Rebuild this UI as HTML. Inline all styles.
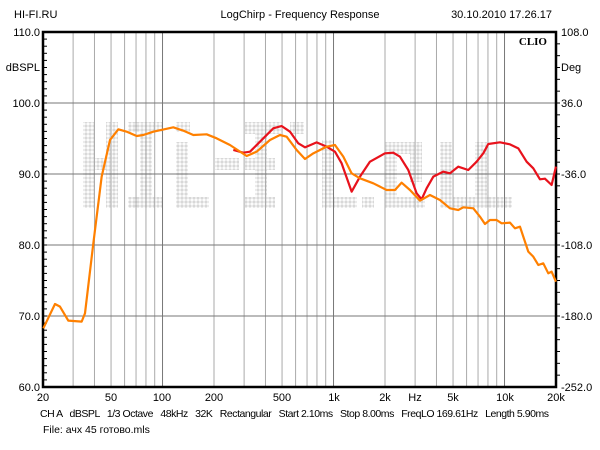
<!DOCTYPE html>
<html><head><meta charset="utf-8"><style>
body{margin:0;background:#fff;width:600px;height:450px;overflow:hidden}
svg{display:block;font-family:"Liberation Sans",Arial,sans-serif}
</style></head><body>
<svg id="s" width="600" height="450" xmlns="http://www.w3.org/2000/svg">
<defs><pattern id="dp" width="4" height="4" patternUnits="userSpaceOnUse"><circle cx="2" cy="2" r="1.6" fill="#d8d8d8"/></pattern></defs>
<g id="wm" fill="url(#dp)">
<rect x="83" y="122" width="12" height="86"/><rect x="106" y="122" width="12" height="86"/><rect x="83" y="158" width="35" height="12"/>
<rect x="128" y="122" width="34" height="10"/><rect x="140" y="122" width="12" height="86"/><rect x="128" y="197" width="34" height="11"/>
<rect x="176" y="122" width="14" height="10"/><rect x="176" y="142" width="12" height="66"/><rect x="176" y="197" width="33" height="11"/>
<rect x="215" y="158" width="24" height="12"/>
<rect x="245" y="122" width="36" height="12"/><rect x="255" y="122" width="12" height="86"/><rect x="245" y="158" width="30" height="12"/><rect x="245" y="197" width="30" height="11"/>
<rect x="290" y="122" width="14" height="12"/><rect x="322" y="140" width="12" height="68"/><rect x="322" y="197" width="35" height="11"/>
<rect x="362" y="197" width="12" height="11"/>
<rect x="385" y="142" width="35" height="12"/><rect x="385" y="142" width="12" height="66"/><rect x="385" y="197" width="40" height="11"/><rect x="410" y="142" width="12" height="40"/>
<rect x="440" y="142" width="12" height="66"/><rect x="475" y="142" width="12" height="66"/><rect x="452" y="197" width="60" height="11"/>
</g>
<g id="grid"></g>
<rect x="43" y="32" width="513" height="355" fill="none" stroke="#000" stroke-width="2.5"/>
<g id="ticks" stroke="#000" stroke-width="1"></g>
<g transform="translate(40,110) scale(0.3333)" fill="none" stroke-linejoin="round">
<polyline stroke="#e8121c" stroke-width="2.2" vector-effect="non-scaling-stroke" points="580,120 610,128 630,125 660,95 700,55 725,48 750,65 775,100 795,112 830,97 860,110 885,125 905,160 935,245 960,200 990,155 1035,130 1060,128 1080,140 1105,180 1130,250 1145,268 1160,235 1180,200 1210,185 1230,190 1255,170 1285,180 1310,155 1330,130 1345,102 1380,97 1410,103 1435,115 1460,155 1480,175 1500,208 1515,206 1535,225 1548,170"/>
<polyline stroke="#ff8000" stroke-width="2.2" vector-effect="non-scaling-stroke" points="10,655 45,582 60,590 85,632 125,635 135,610 160,400 185,200 210,90 235,58 260,65 290,78 310,75 340,65 400,52 430,62 460,75 500,73 530,85 570,105 620,138 650,125 690,90 720,75 740,80 770,120 795,147 820,130 860,110 885,105 910,140 935,190 960,205 1000,220 1020,230 1040,240 1065,240 1085,218 1110,240 1140,272 1170,255 1200,270 1230,295 1255,300 1270,292 1300,295 1320,320 1335,342 1350,330 1370,330 1385,340 1410,338 1425,355 1440,350 1465,425 1480,440 1495,465 1510,460 1525,490 1535,485 1548,515"/>
</g>
<g font-size="11" fill="#000">
<text x="14" y="18">HI-FI.RU</text>
<text x="300" y="18" text-anchor="middle">LogChirp - Frequency Response</text>
<text x="552" y="18" text-anchor="end">30.10.2010 17.26.17</text>
<text x="547" y="45" text-anchor="end" font-family="Liberation Serif,serif" font-weight="bold" font-size="11">CLIO</text>
<g text-anchor="end"><text x="40" y="36">110.0</text><text x="40" y="71">dBSPL</text><text x="40" y="107">100.0</text><text x="40" y="178">90.0</text><text x="40" y="249">80.0</text><text x="40" y="320">70.0</text><text x="40" y="391">60.0</text></g>
<g><text x="561" y="36">108.0</text><text x="561" y="71">Deg</text><text x="561" y="107">36.0</text><text x="561" y="178">-36.0</text><text x="561" y="249">-108.0</text><text x="561" y="320">-180.0</text><text x="561" y="391">-252.0</text></g>
<g text-anchor="middle"><text x="43" y="401">20</text><text x="111" y="401">50</text><text x="162" y="401">100</text><text x="214" y="401">200</text><text x="282" y="401">500</text><text x="334" y="401">1k</text><text x="385" y="401">2k</text><text x="415" y="401">Hz</text><text x="453" y="401">5k</text><text x="505" y="401">10k</text><text x="556" y="401">20k</text></g>
<text x="40" y="417" font-size="10.5" textLength="509" lengthAdjust="spacing" xml:space="preserve">CH A   dBSPL   1/3 Octave   48kHz   32K   Rectangular   Start 2.10ms   Stop 8.00ms   FreqLO 169.61Hz   Length 5.90ms</text>
<text x="43" y="433" font-size="10.5" font-family="Liberation Sans,DejaVu Sans,sans-serif">File: ачх 45 готово.mls</text>
</g>
</svg>
<script>
var ns="http://www.w3.org/2000/svg",g=document.getElementById("grid"),t=document.getElementById("ticks");
function L(p,x1,y1,x2,y2,c,w){var l=document.createElementNS(ns,"line");l.setAttribute("x1",x1);l.setAttribute("y1",y1);l.setAttribute("x2",x2);l.setAttribute("y2",y2);l.setAttribute("stroke",c);l.setAttribute("stroke-width",w);p.appendChild(l);}
[[10,100],[100,1000],[1000,10000]].forEach(function(d){for(var k=2;k<=10;k++){var f=d[0]*k;if(f<=20||f>=20000)continue;var x=43+171*Math.log10(f/20);L(g,x,32,x,387,k==10?"#777":"#aaa",1);}});
for(var v=100;v>60;v-=10){var y=32+(110-v)*7.1;L(g,43,y,556,y,"#777",1);}
for(var i=1;i<50;i++){var y=32+i*7.1;L(t,43,y,47,y,"#000",1);}
for(var i=1;i<30;i++){var y=32+i*355/30;L(t,556,y,560,y,"#000",1);}
</script>
</body></html>
